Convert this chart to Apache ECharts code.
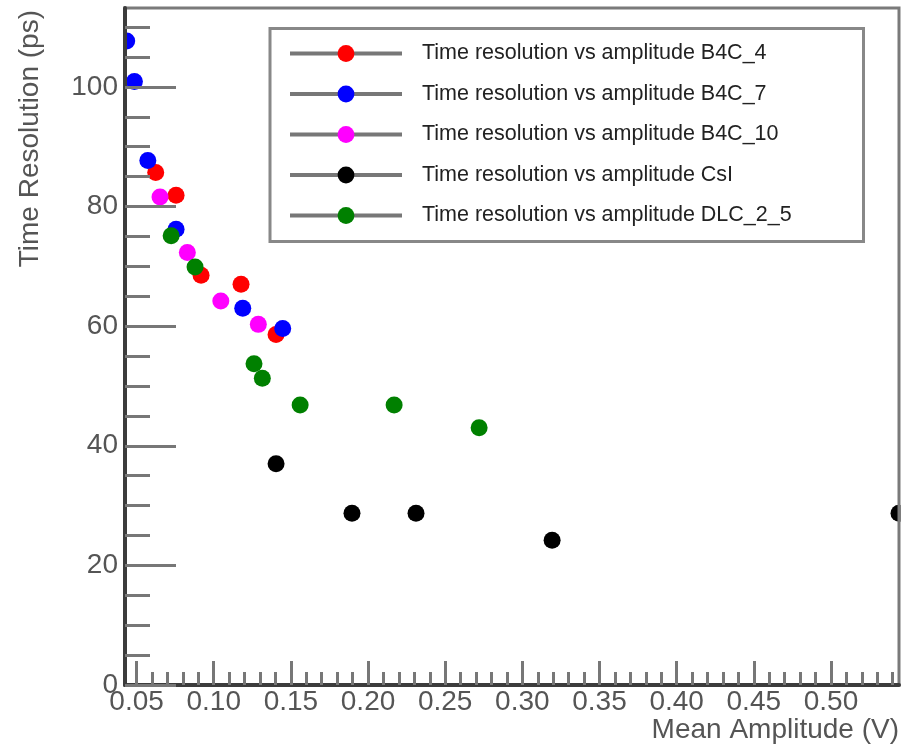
<!DOCTYPE html>
<html>
<head>
<meta charset="utf-8">
<script src="https://cdn.jsdelivr.net/npm/echarts@6/dist/echarts.min.js"></script>
<style>
html,body{margin:0;padding:0;background:#fff;}
#chart{width:902px;height:750px;}
</style>
</head>
<body>
<div id="chart"></div>
<script>
// ---- data ----
const seriesNames = [
  'Time resolution vs amplitude B4C_4',
  'Time resolution vs amplitude B4C_7',
  'Time resolution vs amplitude B4C_10',
  'Time resolution vs amplitude CsI',
  'Time resolution vs amplitude DLC_2_5'
];
const seriesColors = ['#ff0000', '#0000ff', '#ff00ff', '#000000', '#008000'];

const b4c4X = [0.0624, 0.0756, 0.0918, 0.1177, 0.1404];
const b4c4Y = [85.7, 81.9, 68.5, 67.0, 58.6];

const b4c7X = [0.0436, 0.0486, 0.0573, 0.0756, 0.1188, 0.1447];
const b4c7Y = [107.7, 100.9, 87.7, 76.2, 63.0, 59.6];

const b4c10X = [0.0652, 0.0829, 0.1046, 0.1289];
const b4c10Y = [81.6, 72.3, 64.2, 60.3];

const csiX = [0.1404, 0.1896, 0.2311, 0.3193, 0.5441];
const csiY = [37.0, 28.7, 28.7, 24.2, 28.7];

const dlcX = [0.0724, 0.0879, 0.1261, 0.1315, 0.1560, 0.2169, 0.2720];
const dlcY = [75.1, 69.9, 53.7, 51.3, 46.8, 46.8, 43.0];

const xMajorTicks = [0.05, 0.10, 0.15, 0.20, 0.25, 0.30, 0.35, 0.40, 0.45, 0.50];
const xMinorTicks = [0.06,0.07,0.08,0.09,0.11,0.12,0.13,0.14,0.16,0.17,0.18,0.19,
  0.21,0.22,0.23,0.24,0.26,0.27,0.28,0.29,0.31,0.32,0.33,0.34,0.36,0.37,0.38,0.39,
  0.41,0.42,0.43,0.44,0.46,0.47,0.48,0.49,0.51,0.52,0.53,0.54];
const yMajorTicks = [0, 20, 40, 60, 80, 100];
const yMinorTicks = [5,10,15,25,30,35,45,50,55,65,70,75,85,90,95,105,110];

const xTitle = 'Mean Amplitude (V)';
const yTitle = 'Time Resolution (ps)';

// ---- build ----
const xs = [b4c4X, b4c7X, b4c10X, csiX, dlcX];
const ys = [b4c4Y, b4c7Y, b4c10Y, csiY, dlcY];

const X_MIN = 0.0425, X_MAX = 0.5441, Y_MIN = 0, Y_MAX = 113.2;
const FONT = 'Liberation Sans, Arial, sans-serif';
const gridPos = {left: 125, top: 8, right: 3, bottom: 65};

function zip(a, b) { return a.map((v, i) => [v, b[i]]); }

const series = seriesNames.map((name, i) => ({
  name: name,
  type: 'line',
  xAxisIndex: 0,
  yAxisIndex: 0,
  data: zip(xs[i], ys[i]),
  symbol: 'circle',
  symbolSize: 17,
  showAllSymbol: true,
  lineStyle: {width: 0, opacity: 0},
  itemStyle: {color: seriesColors[i]},
  emphasis: {disabled: true},
  animation: false,
  z: 3
}));

const chart = echarts.init(document.getElementById('chart'));
chart.setOption({
  animation: false,
  backgroundColor: '#fff',
  grid: [
    Object.assign({show: true, borderColor: '#7a7a7a', borderWidth: 3, backgroundColor: 'transparent', z: 5}, gridPos),
    Object.assign({show: false}, gridPos)
  ],
  xAxis: [
    {
      type: 'value', gridIndex: 0, min: X_MIN, max: X_MAX, position: 'bottom', z: 6,
      axisLine: {show: true, onZero: false, lineStyle: {color: '#3c3c3c', width: 4}},
      axisTick: {show: true, inside: true, length: 24, customValues: xMajorTicks, lineStyle: {color: '#777', width: 3}},
      axisLabel: {show: true, customValues: xMajorTicks, margin: 3, color: '#555', fontSize: 28, fontFamily: FONT,
        formatter: v => v.toFixed(2)},
      splitLine: {show: false}
    },
    {
      type: 'value', gridIndex: 1, min: X_MIN, max: X_MAX, position: 'bottom', z: 6,
      axisLine: {show: false},
      axisTick: {show: true, inside: true, length: 13, customValues: xMinorTicks, lineStyle: {color: '#777', width: 3}},
      axisLabel: {show: false},
      splitLine: {show: false}
    }
  ],
  yAxis: [
    {
      type: 'value', gridIndex: 0, min: Y_MIN, max: Y_MAX, position: 'left', z: 6,
      axisLine: {show: true, onZero: false, lineStyle: {color: '#3c3c3c', width: 4}},
      axisTick: {show: true, inside: true, length: 51, customValues: yMajorTicks, lineStyle: {color: '#777', width: 3}},
      axisLabel: {show: true, customValues: yMajorTicks, margin: 7, color: '#555', fontSize: 28, fontFamily: FONT},
      splitLine: {show: false}
    },
    {
      type: 'value', gridIndex: 1, min: Y_MIN, max: Y_MAX, position: 'left', z: 6,
      axisLine: {show: false},
      axisTick: {show: true, inside: true, length: 25, customValues: yMinorTicks, lineStyle: {color: '#777', width: 3}},
      axisLabel: {show: false},
      splitLine: {show: false}
    }
  ],
  legend: {
    data: seriesNames,
    orient: 'vertical',
    left: 288,
    top: 42.5,
    padding: 0,
    itemWidth: 112,
    itemHeight: 21,
    itemGap: 18.5,
    selectedMode: false,
    lineStyle: {color: '#777', width: 4, opacity: 1, type: 'solid'},
    textStyle: {fontSize: 21.5, color: '#222', fontFamily: FONT, padding: [0, 0, 0, 15]}
  },
  graphic: [
    // white masks that clip markers at the frame edges, as in the reference
    {
      type: 'rect', x: 0, y: 0, z: 4, silent: true,
      shape: {x: 0, y: 0, width: 123, height: 750},
      style: {fill: '#fff'}
    },
    {
      type: 'rect', x: 900.5, y: 0, z: 4, silent: true,
      shape: {x: 0, y: 0, width: 10, height: 750},
      style: {fill: '#fff'}
    },
    {
      type: 'rect', x: 270, y: 28.5, z: 10, silent: true,
      shape: {x: 0, y: 0, width: 593.5, height: 213},
      style: {fill: 'none', stroke: '#888', lineWidth: 3}
    },
    {
      type: 'text', x: 899, y: 730, z: 10, silent: true,
      style: {text: xTitle, fill: '#555', font: '28px ' + FONT, textAlign: 'right', textVerticalAlign: 'middle'}
    },
    {
      type: 'text', x: 30, y: 10, rotation: Math.PI / 2, z: 10, silent: true,
      style: {text: yTitle, fill: '#555', font: '28px ' + FONT, textAlign: 'right', textVerticalAlign: 'middle'}
    }
  ],
  series: series
});
</script>
</body>
</html>
